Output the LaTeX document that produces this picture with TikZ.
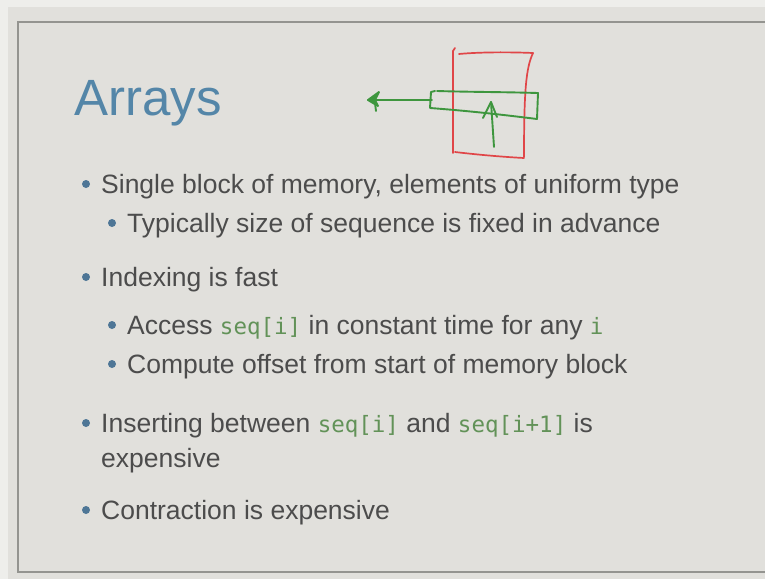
\documentclass[tikz,border=0pt]{standalone}
\usepackage{fontspec}
\setmainfont{Liberation Sans}
\newfontfamily\codefont{DejaVu Sans Mono}
\usetikzlibrary{arrows.meta, positioning}
\definecolor{paperbg}{RGB}{238,238,235}
\definecolor{slidebg}{RGB}{225,224,220}
\definecolor{framegray}{RGB}{148,148,144}
\definecolor{titleblue}{RGB}{84,134,168}
\definecolor{textgray}{RGB}{76,76,76}
\definecolor{codegreen}{RGB}{98,146,88}
\definecolor{bulletblue}{RGB}{78,118,150}
\definecolor{penred}{RGB}{224,70,72}
\definecolor{pengreen}{RGB}{62,150,62}
\newcommand{\code}[1]{{\codefont\fontsize{22.5}{26}\selectfont\color{codegreen}#1}}

\begin{document}
\begin{tikzpicture}[
        x=1pt, y=-1pt,
        item/.style={anchor=base west, inner sep=0pt, text=textgray, font=\fontsize{26.5}{30}\selectfont},
        dot/.style={circle, fill=bulletblue, inner sep=0pt, minimum size=8pt},
        redpen/.style={draw=penred, line width=1.7pt, line cap=round, line join=round},
        greenpen/.style={draw=pengreen, line width=1.9pt, line cap=round, line join=round}
    ]
        % Slide background and frame
        \fill[paperbg] (0,0) rectangle (765,579);
        \useasboundingbox (0,0) rectangle (765,579);
        \fill[slidebg] (8,7) rectangle (765,579);
        \draw[framegray, line width=1.4pt] (770,22) -- (18,22) -- (18,572) -- (770,572);

        % Title
        \node[anchor=base west, inner sep=0pt, text=titleblue, font=\fontsize{51}{56}\selectfont] (title) at (74,115) {Arrays};

        % Bullet lines
        \node[item] (l1) at (101,193) {Single block of memory, elements of uniform type};
        \node[item] (l2) at (127,232) {Typically size of sequence is fixed in advance};
        \node[item] (l3) at (101,286) {Indexing is fast};
        \node[item] (l4) at (127,334) {Access \code{seq[i]} in constant time for any \code{i}};
        \node[item] (l5) at (127,373) {Compute offset from start of memory block};
        \node[item] (l6) at (101,432) {Inserting between \code{seq[i]} and \code{seq[i+1]} is};
        \node[item] (l7) at (101,467) {expensive};
        \node[item] (l8) at (101,519) {Contraction is expensive};

        % Bullet dots
        \foreach \l in {l1,l2,l3,l4,l5,l6,l8}
            \node[dot] (dot-\l) at ([xshift=-15pt, yshift=9pt]\l.base west) {};

        % Hand sketch: memory block
        \draw[redpen] (455,48) -- (453,51) -- (453,153);
        \draw[redpen] (459,54) .. controls (480,52) and (510,52) .. (533,53);
        \draw[redpen] (533,53) .. controls (526,68) and (524,90) .. (524,157);
        \draw[redpen] (455,152) .. controls (480,155) and (505,157) .. (524,158);

        % Hand sketch: sequence and pointers
        \coordinate (ptrL) at (432,100);
        \coordinate (ptrTip) at (368,100);
        \coordinate (upBase) at (494,147);
        \coordinate (upTip) at (491,102);
        \draw[greenpen] (437,91) .. controls (470,92) and (505,92) .. (538,93) -- (537,119);
        \draw[greenpen] (435,91) -- (431,92) -- (430,108) .. controls (470,111) and (505,115) .. (537,119);
        \draw[greenpen] (ptrL) -- (ptrTip);
        \draw[greenpen, fill=pengreen] (379,92) -- (ptrTip) -- (378,106) -- (375,100) -- cycle;
        \draw[greenpen] (375,103) -- (376,111);
        \draw[greenpen] (upBase) -- (upTip);
        \draw[greenpen] (483,118) -- (upTip) -- (497,117);
\end{tikzpicture}
\end{document}
